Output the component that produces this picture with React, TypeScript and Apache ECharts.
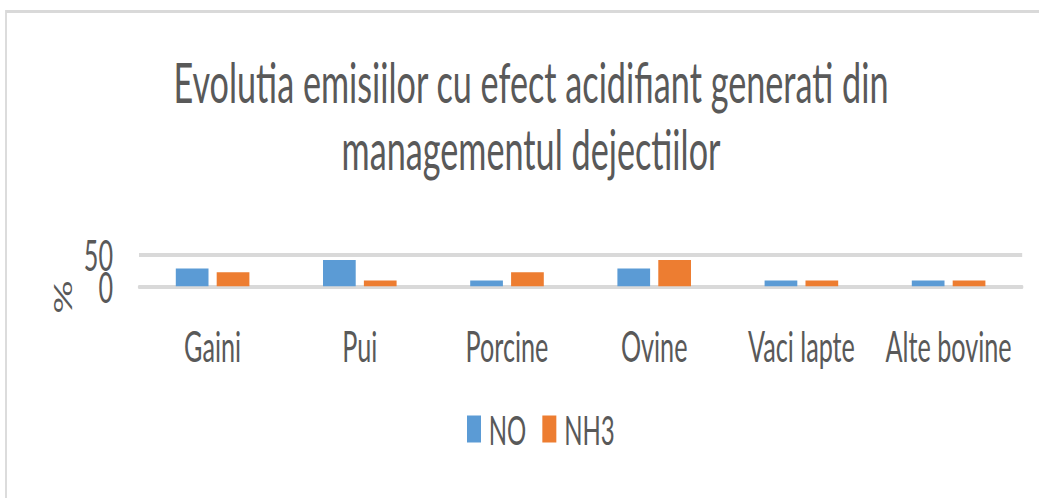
import React, { useEffect, useRef } from 'react';
import * as echarts from 'echarts';

const categories = ['Gaini', 'Pui', 'Porcine', 'Ovine', 'Vaci lapte', 'Alte bovine'];
const noValues = [28, 41, 9, 28, 9, 9];
const nh3Values = [22, 9, 22, 41, 9, 9];
const yMin = 0;
const yMax = 50;
const yInterval = 50;
const titleLines = ['Evolutia emisiilor cu efect acidifiant generati din', 'managementul dejectiilor'];
const yAxisName = '%';
const seriesNames = ['NO', 'NH3'];

const S = 0.6; // horizontal squeeze of the reference
const W = 1039 / S;
const H = 498;
const X = (v: number) => v / S;
const FONT = 'Lato, "Open Sans", sans-serif';
const TXT = '#595959';

export default function App() {
  const ref = useRef<HTMLDivElement>(null);
  useEffect(() => {
    if (!ref.current) return;
    const chart = echarts.init(ref.current, undefined, { renderer: 'svg' });
    const labelStyle = { fontSize: 42, lineHeight: 30, color: TXT, fontFamily: FONT, margin: X(26), hideOverlap: false };
    chart.setOption({
      animation: false,
      backgroundColor: '#ffffff',
      textStyle: { fontFamily: FONT },
      graphic: [
        {
          type: 'rect',
          shape: { x: X(6), y: 11.5, width: W + 100, height: H + 100 },
          style: { fill: 'none', stroke: '#d9d9d9', lineWidth: 3 },
          silent: true,
        },
        {
          type: 'text',
          x: X(531),
          y: 81.5,
          style: { text: titleLines[0], fontSize: 57, fontFamily: FONT, fill: TXT, align: 'center', verticalAlign: 'middle' },
        },
        {
          type: 'text',
          x: X(531),
          y: 148.5,
          style: { text: titleLines[1], fontSize: 57, fontFamily: FONT, fill: TXT, align: 'center', verticalAlign: 'middle' },
        },
      ],
      legend: {
        data: seriesNames,
        left: X(464),
        top: 404,
        icon: 'rect',
        itemWidth: X(14),
        itemHeight: 27,
        itemGap: X(16),
        textStyle: { fontSize: 40, color: TXT, fontFamily: FONT, lineHeight: 27, padding: [0, 0, 0, 8] },
      },
      grid: {
        left: X(139),
        right: W - X(1022),
        top: 254.3,
        bottom: H - 286.3,
        containLabel: false,
      },
      xAxis: {
        type: 'category',
        data: categories,
        axisLine: { lineStyle: { color: '#d9d9d9', width: 4 } },
        axisTick: { show: false },
        axisLabel: { fontSize: 42, color: TXT, fontFamily: FONT, margin: 59, verticalAlign: 'middle', interval: 0, hideOverlap: false },
      },
      yAxis: [
        {
          type: 'value',
          position: 'left',
          min: yMin,
          max: yMax,
          interval: yInterval,
          name: yAxisName,
          nameLocation: 'middle',
          nameRotate: 90,
          nameGap: 107,
          nameTextStyle: { fontSize: 42, color: TXT, fontFamily: FONT, padding: [0, 53, 0, 0] },
          axisLine: { show: false },
          axisTick: { show: false },
          axisLabel: { ...labelStyle, formatter: (v: number) => (v === yMin ? String(v) : '') },
          splitLine: { lineStyle: { color: '#d9d9d9', width: 4 } },
        },
        {
          type: 'value',
          position: 'left',
          min: yMin,
          max: yMax,
          interval: yInterval,
          axisLine: { show: false },
          axisTick: { show: false },
          axisLabel: { ...labelStyle, formatter: (v: number) => (v === yMax ? String(v) : '') },
          splitLine: { show: false },
        },
      ],
      series: [
        {
          name: seriesNames[0],
          type: 'bar',
          data: noValues,
          itemStyle: { color: '#5b9bd5' },
          barGap: '25%',
          barCategoryGap: '50%',
        },
        {
          name: seriesNames[1],
          type: 'bar',
          data: nh3Values,
          itemStyle: { color: '#ed7d31' },
          barGap: '25%',
          barCategoryGap: '50%',
        },
      ],
    });
    return () => chart.dispose();
  }, []);
  return (
    <div style={{ position: 'fixed', left: 0, top: 0, width: 1039, height: H, overflow: 'hidden', background: '#fff' }}>
      <div
        ref={ref}
        style={{ width: W, height: H, transform: `scaleX(${S})`, transformOrigin: '0 0' }}
      />
    </div>
  );
}
